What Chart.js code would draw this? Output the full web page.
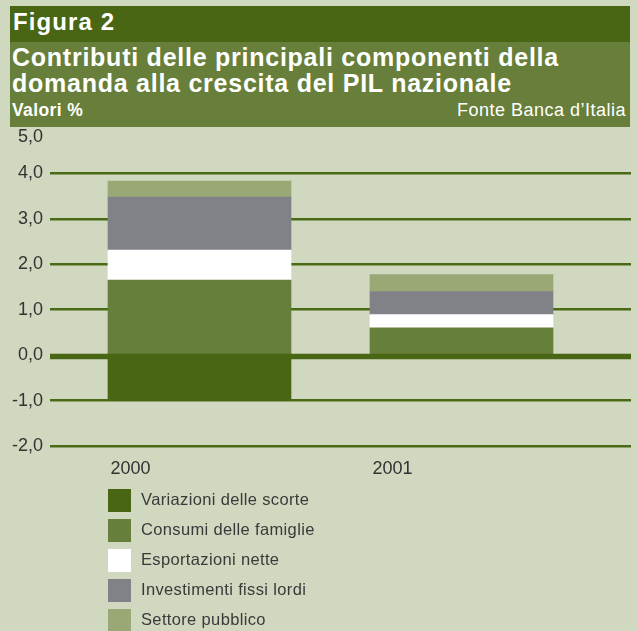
<!DOCTYPE html>
<html lang="it">
<head>
<meta charset="utf-8">
<title>Figura 2</title>
<script src="https://cdn.jsdelivr.net/npm/chart.js@4/dist/chart.umd.min.js"></script>
<style>
  html, body { margin: 0; padding: 0; }
  body {
    width: 637px; height: 631px; overflow: hidden; position: relative;
    background: #d0d8bf;
    font-family: "Liberation Sans", Arial, sans-serif;
  }
  .band1 {
    position: absolute; left: 10px; top: 6px; width: 620px; height: 36px;
    background: #486614; color: #fff; font-weight: bold; font-size: 24px;
    letter-spacing: 1.1px;
  }
  .band1 span { position: absolute; left: 3px; top: 2px; }
  .band2 {
    position: absolute; left: 10px; top: 42px; width: 620px; height: 85px;
    background: #677f3a; color: #fff;
  }
  .title {
    position: absolute; left: 2px; top: 2px; font-weight: bold;
    font-size: 25px; line-height: 26.4px; letter-spacing: 0.75px;
  }
  .unit {
    position: absolute; left: 2px; top: 59px; font-weight: bold;
    font-size: 17.5px; line-height: 18px; letter-spacing: 0.4px;
  }
  .source {
    position: absolute; right: 4px; top: 59px;
    font-size: 18px; line-height: 18px; letter-spacing: 0.5px;
  }
  #chart { position: absolute; left: 0; top: 0; }
  #legend { position: absolute; left: 108px; top: 489px; margin: 0; padding: 0; list-style: none; }
  #legend li { height: 30px; display: flex; align-items: flex-start; }
  #legend .box { width: 23px; height: 23px; margin-right: 10px; }
  #legend .txt { font-size: 16.5px; color: #3a3a3a; line-height: 21px; letter-spacing: 0.35px; }
</style>
</head>
<body>
<div class="band1"><span>Figura 2</span></div>
<div class="band2">
  <div class="title">Contributi delle principali componenti della<br>domanda alla crescita del PIL nazionale</div>
  <div class="unit">Valori %</div>
  <div class="source">Fonte Banca d’Italia</div>
</div>
<canvas id="chart" width="637" height="631"></canvas>
<ul id="legend"></ul>
<script>
// anni e componenti
const years = ["2000", "2001"];
const seriesNames = [
  "Variazioni delle scorte",
  "Consumi delle famiglie",
  "Esportazioni nette",
  "Investimenti fissi lordi",
  "Settore pubblico",
];
const scorte = [-1.0, 0.0];
const consumi = [1.65, 0.6];
const esportazioni = [0.66, 0.29];
const investimenti = [1.17, 0.51];
const pubblico = [0.35, 0.37];
const yTicks = [-2, -1, 0, 1, 2, 3, 4, 5];

const seriesValues = [scorte, consumi, esportazioni, investimenti, pubblico];
const seriesColors = ["#486614", "#667f3a", "#ffffff", "#818287", "#99a874"];
const gridGreen = "#4a6a16";

// linea dello zero, sopra le barre
const zeroLine = {
  id: "zeroLine",
  afterDatasetsDraw(chart) {
    const { ctx, chartArea, scales } = chart;
    const y = scales.y.getPixelForValue(0) + 1.5;
    ctx.save();
    ctx.strokeStyle = "#486614";
    ctx.lineWidth = 5.5;
    ctx.beginPath();
    ctx.moveTo(chartArea.left, y);
    ctx.lineTo(chartArea.right, y);
    ctx.stroke();
    ctx.restore();
  },
};

const ctx = document.getElementById("chart").getContext("2d");
const chart = new Chart(ctx, {
  type: "bar",
  data: {
    datasets: seriesNames.map((name, s) => ({
      label: name,
      data: years.map((yr, i) => ({ x: i, y: seriesValues[s][i] })),
      backgroundColor: seriesColors[s],
      borderWidth: 0,
      barThickness: 183,
    })),
  },
  options: {
    responsive: false,
    animation: false,
    layout: { padding: { top: 137, bottom: 145, left: 0, right: 6 } },
    plugins: {
      legend: false, // legenda in html sotto
      tooltip: { enabled: false },
    },
    scales: {
      x: {
        type: "linear",
        stacked: true,
        offset: false,
        min: -0.5706,
        max: 1.647,
        grid: { display: false },
        border: { display: false },
        afterBuildTicks: (axis) => {
          axis.ticks = years.map((y, i) => ({ value: i }));
        },
        afterFit: (axis) => {
          axis.height = 40;
        },
        ticks: {
          callback: (v) => years[v],
          labelOffset: -69,
          padding: 4,
          color: "#333",
          font: { family: "Liberation Sans", size: 18 },
        },
      },
      y: {
        stacked: true,
        min: -2,
        max: 4.8, // l'etichetta 5,0 sta sul bordo superiore
        afterBuildTicks: (axis) => {
          axis.ticks = yTicks.map((v) => ({ value: Math.min(v, axis.max) }));
        },
        afterFit: (axis) => {
          axis.width = 50;
        },
        border: { display: false },
        grid: {
          drawTicks: false,
          color: (c) =>
            c.tick && (c.tick.value === 0 || c.index === yTicks.length - 1)
              ? "rgba(0,0,0,0)"
              : gridGreen,
          lineWidth: 2.5,
        },
        ticks: {
          padding: 7,
          color: "#333",
          font: { family: "Liberation Sans", size: 18 },
          callback: (v, i) => yTicks[i].toFixed(1).replace(".", ","),
        },
      },
    },
  },
  plugins: [zeroLine],
});

// legenda
const legend = document.getElementById("legend");
chart.data.datasets.forEach((ds) => {
  const li = document.createElement("li");
  const box = document.createElement("span");
  box.className = "box";
  box.style.background = ds.backgroundColor;
  const txt = document.createElement("span");
  txt.className = "txt";
  txt.textContent = ds.label;
  li.appendChild(box);
  li.appendChild(txt);
  legend.appendChild(li);
});
</script>
</body>
</html>
